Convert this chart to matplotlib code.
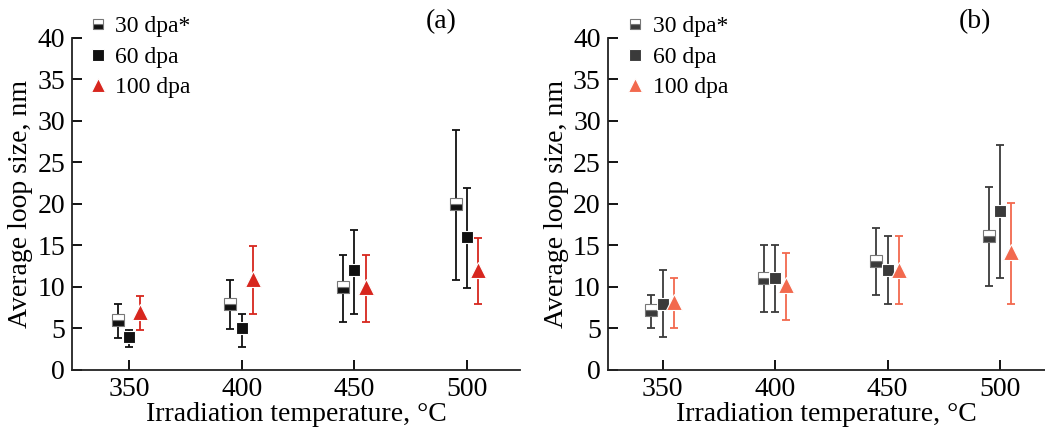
import numpy as np
import matplotlib.pyplot as plt
from matplotlib.lines import Line2D

plt.rcParams['font.family'] = ['Liberation Serif', 'DejaVu Serif']

temps = np.array([350, 400, 450, 500])
labels = ["30 dpa*", "60 dpa", "100 dpa"]

# panel (a): mean, lower and upper ends of error bars
a_30 = [6, 8, 10, 20]
a_30_lo = [3.9, 4.9, 5.8, 10.9]
a_30_hi = [7.9, 10.9, 13.9, 28.9]
a_60 = [4, 5, 12, 16]
a_60_lo = [2.8, 2.8, 6.8, 9.9]
a_60_hi = [4.8, 6.8, 16.9, 21.9]
a_100 = [7, 11, 10, 12]
a_100_lo = [4.8, 6.8, 5.8, 7.9]
a_100_hi = [8.9, 14.9, 13.9, 15.9]

# panel (b)
b_30 = [7.2, 11.1, 13.1, 16.1]
b_30_lo = [5.0, 7.0, 9.0, 10.1]
b_30_hi = [9.0, 15.1, 17.1, 22.0]
b_60 = [8.0, 11.1, 12.1, 19.1]
b_60_lo = [4.0, 7.0, 8.0, 11.1]
b_60_hi = [12.1, 15.1, 16.1, 27.1]
b_100 = [8.2, 10.2, 12.1, 14.2]
b_100_lo = [5.0, 6.0, 8.0, 8.0]
b_100_hi = [11.1, 14.1, 16.1, 20.1]


def marker_style(color, marker, ms, half):
    st = dict(marker=marker, color=color, markersize=ms, linestyle='none')
    if half:
        st.update(fillstyle='bottom', markerfacecolor=color,
                  markerfacecoloralt='white', markeredgecolor='#777777',
                  markeredgewidth=0.8)
    else:
        st.update(markerfacecolor=color, markeredgecolor='white',
                  markeredgewidth=0.8)
    return st


def draw_series(ax, x, y, lo, hi, color, marker, ms, half=False):
    y = np.array(y)
    err = [y - np.array(lo), np.array(hi) - y]
    ax.errorbar(x, y, yerr=err, fmt='none', ecolor=color, elinewidth=1.3,
                capsize=2.8, capthick=1.3)
    ax.plot(x, y, **marker_style(color, marker, ms, half))


def panel(ax, d30, d60, d100, dark, red, tag, xlim, tagx, legx):
    draw_series(ax, temps - 5, d30[0], d30[1], d30[2], dark, 's', 8.5, half=True)
    draw_series(ax, temps, d60[0], d60[1], d60[2], dark, 's', 9)
    draw_series(ax, temps + 5, d100[0], d100[1], d100[2], red, '^', 11)
    ax.set_xlim(*xlim)
    ax.set_ylim(0, 40)
    ax.set_xticks(temps)
    ax.set_yticks(np.arange(0, 41, 5))
    ax.spines['top'].set_visible(False)
    ax.spines['right'].set_visible(False)
    for s in ('left', 'bottom'):
        ax.spines[s].set_linewidth(1.3)
        ax.spines[s].set_color('#222222')
    ax.tick_params(direction='in', length=7, width=1.3, labelsize=20, pad=5)
    ax.set_xlabel("Irradiation temperature, °C", fontsize=20, labelpad=0)
    ax.set_ylabel("Average loop size, nm", fontsize=20, labelpad=3)
    ax.text(tagx, 1.048, tag, transform=ax.transAxes, fontsize=20,
            ha='center', va='center')
    handles = [Line2D([], [], **marker_style(dark, 's', 7.5, True)),
               Line2D([], [], **marker_style(dark, 's', 8, False)),
               Line2D([], [], **marker_style(red, '^', 10.5, False))]
    ax.legend(handles, labels, loc='upper left', bbox_to_anchor=(legx, 1.095),
              frameon=False, fontsize=17, handletextpad=0.25,
              labelspacing=0.38, borderaxespad=0, handlelength=1.0)


fig = plt.figure(figsize=(10.45, 4.34), dpi=100)
ax1 = fig.add_axes([0.0689, 0.1475, 0.4287, 0.765])
ax2 = fig.add_axes([0.5815, 0.1475, 0.4185, 0.765])

panel(ax1, (a_30, a_30_lo, a_30_hi), (a_60, a_60_lo, a_60_hi),
      (a_100, a_100_lo, a_100_hi), '#111111', '#d7261e', '(a)', (324.7, 523.5),
      0.824, 0.01)
panel(ax2, (b_30, b_30_lo, b_30_hi), (b_60, b_60_lo, b_60_hi),
      (b_100, b_100_lo, b_100_hi), '#3a3a3a', '#f2694e', '(b)', (325.6, 520),
      0.84, 0.015)

fig.savefig("out.png", dpi=100)
